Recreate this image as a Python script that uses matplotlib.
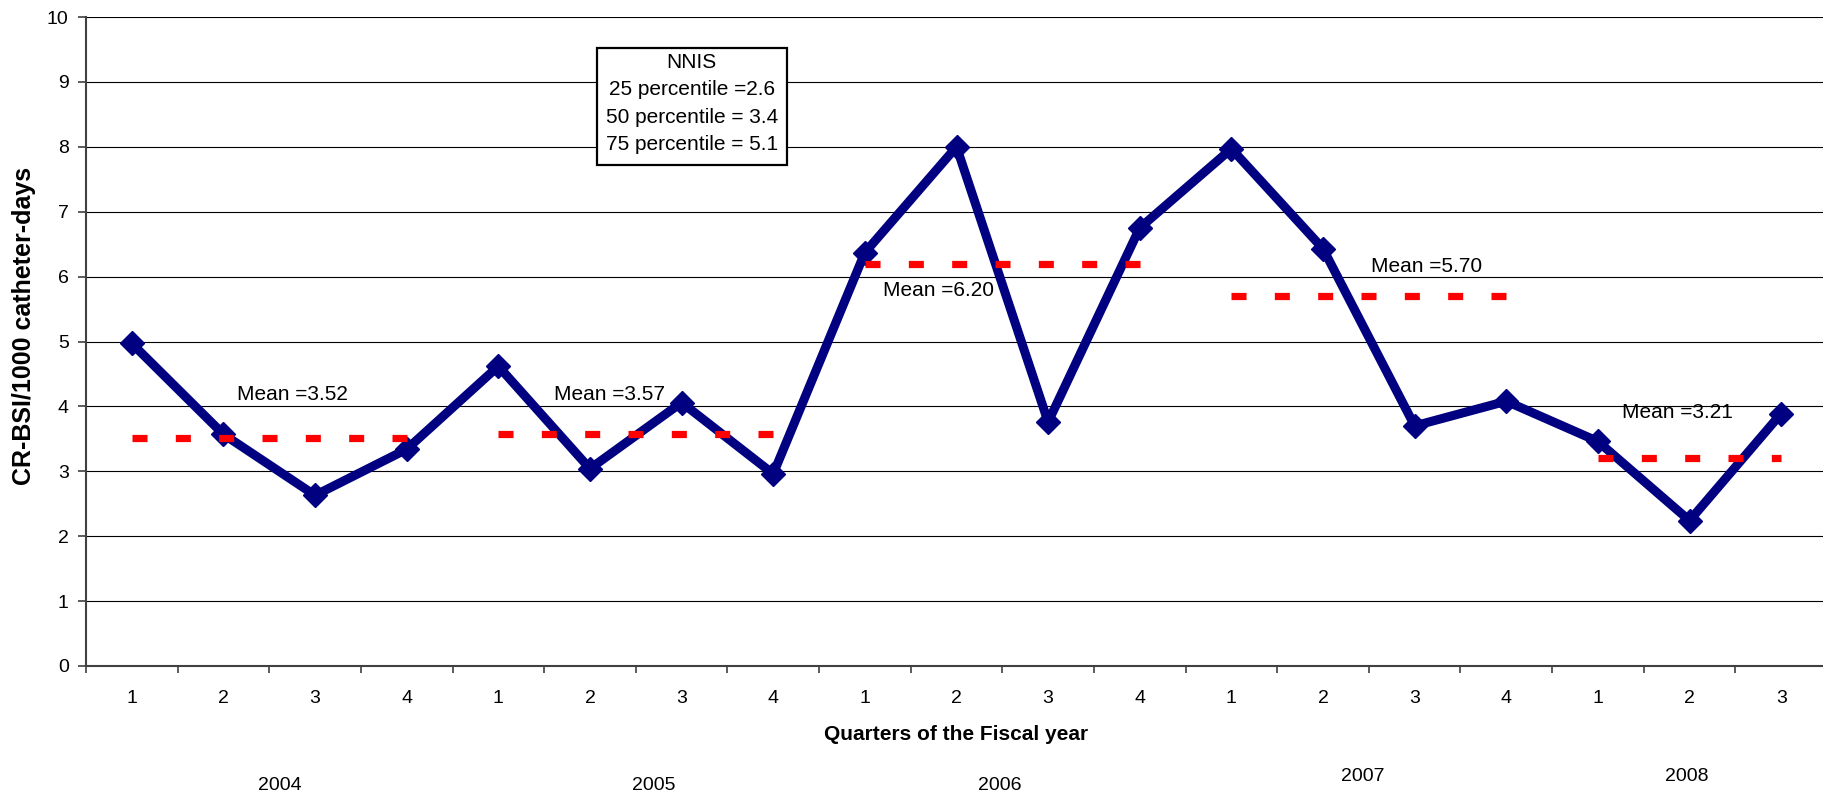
import matplotlib.pyplot as plt
from matplotlib.patches import Rectangle

plt.rcParams['font.family'] = ['Liberation Sans', 'DejaVu Sans']

# CR-BSI rate per quarter, FY2004 Q1 .. FY2008 Q3
quarters = ['1', '2', '3', '4'] * 4 + ['1', '2', '3']
rates = [4.97, 3.57, 2.63, 3.34, 4.62, 3.04, 4.06, 2.96,
         6.37, 8.00, 3.76, 6.75, 7.97, 6.43, 3.70, 4.08,
         3.46, 2.24, 3.89]

years = ['2004', '2005', '2006', '2007', '2008']
year_first = [0, 4, 8, 12, 16]
year_last = [3, 7, 11, 15, 18]
year_means = [3.52, 3.57, 6.20, 5.70, 3.21]

nnis_lines = ['NNIS', '25 percentile =2.6', '50 percentile = 3.4',
              '75 percentile = 5.1']

fig = plt.figure(figsize=(18.23, 7.96), dpi=100)
ax = fig.add_axes([86 / 1823, 130 / 796, 1741 / 1823, 649 / 796])

x = list(range(len(rates)))
ax.plot(x, rates, color='#000080', lw=6.5, marker='D', ms=12.5, zorder=3)

# yearly means as red dashed segments
for first, last, m in zip(year_first, year_last, year_means):
    ax.plot([first, last], [m, m], color='#ff0000', lw=5.2,
            ls=(0, (2.08, 3.92)), dash_capstyle='butt', zorder=4)

# mean labels
mean_label_pos = [(1.75, 4.19), (5.21, 4.19), (8.80, 5.78), (14.13, 6.16), (16.87, 3.90)]
for (tx, ty), m in zip(mean_label_pos, year_means):
    ax.text(tx, ty, f'Mean ={m:.2f}', ha='center', va='center', fontsize=15, zorder=5)

# NNIS reference box
ax.add_patch(Rectangle((5.08, 7.72), 2.07, 1.80, facecolor='white',
                       edgecolor='black', lw=1.6, zorder=6))
for ty, line in zip([9.30, 8.88, 8.45, 8.04], nnis_lines):
    ax.text(6.11, ty, line, ha='center', va='center', fontsize=15, zorder=7)

ax.set_xlim(-0.5, 18.5)
ax.set_ylim(0, 10)
ax.set_yticks(range(11))
ax.yaxis.grid(True, color='black', lw=0.8)
ax.set_axisbelow(True)

for side in ['top', 'right']:
    ax.spines[side].set_visible(False)
for side in ['left', 'bottom']:
    ax.spines[side].set_color('#404040')
    ax.spines[side].set_linewidth(1.5)

ax.set_xticks(x, quarters)
ax.set_xticks([i - 0.5 for i in range(len(rates) + 1)], minor=True)
ax.tick_params(axis='x', which='major', length=0, pad=17, labelsize=14)
ax.tick_params(axis='x', which='minor', length=5, width=1.2, color='#404040')
ax.tick_params(axis='y', length=5.5, width=1.2, color='#404040', pad=7, labelsize=14)

ax.set_xlabel('Quarters of the Fiscal year', fontsize=15, fontweight='bold', va='center')
ax.xaxis.set_label_coords(0.5, -0.1063)
ax.set_ylabel('CR-BSI/1000 catheter-days', fontsize=18, fontweight='bold', va='center')
ax.yaxis.set_label_coords(-0.0356, 0.524)

# fiscal year labels under the quarter ticks
year_label_x = [1.62, 5.70, 9.47, 13.43, 16.97]
year_label_y = [-0.1834, -0.1834, -0.1834, -0.1695, -0.1695]
for name, tx, ty in zip(years, year_label_x, year_label_y):
    ax.text(tx, ty, name, transform=ax.get_xaxis_transform(),
            ha='center', va='center', fontsize=14)

fig.savefig('out.png', dpi=100)
